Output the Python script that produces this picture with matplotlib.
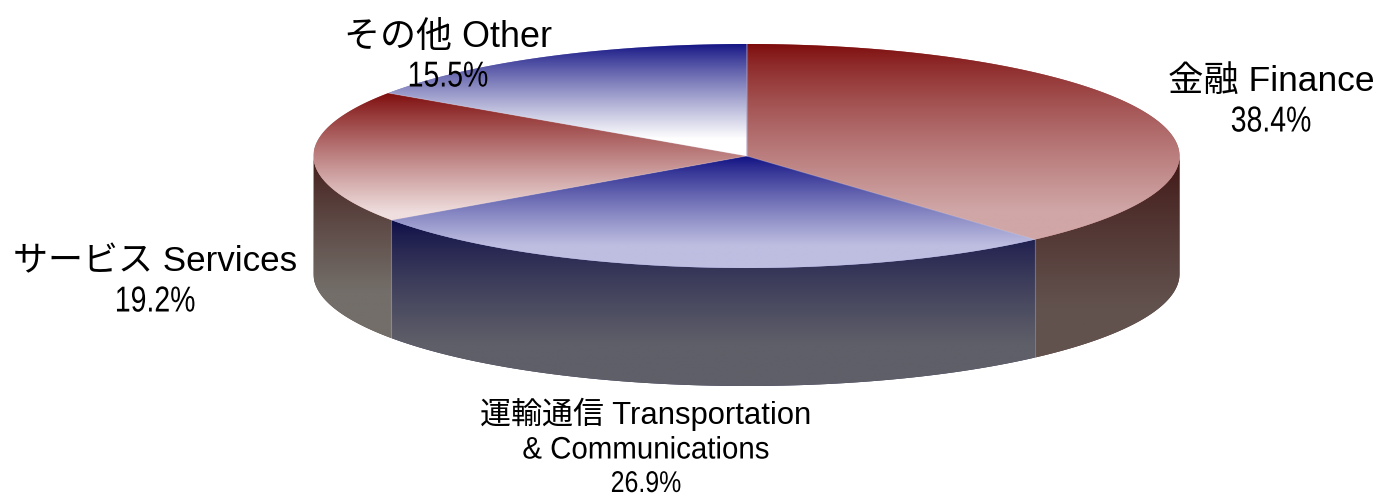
import numpy as np
import matplotlib
matplotlib.use("Agg")
import matplotlib.pyplot as plt
from matplotlib.path import Path
from matplotlib.patches import PathPatch
from matplotlib.patheffects import AbstractPathEffect
from matplotlib.transforms import Affine2D

# ---- data ----
categories = ["金融 Finance", "運輸通信 Transportation\n& Communications", "サービス Services", "その他 Other"]
shares = [38.4, 26.9, 19.2, 15.5]

# ---- styles ----
top_from = ["#7d0a0a", "#0f0f82", "#7d0a0a", "#0f0f82"]
top_to = ["#d0a6a6", "#bebee1", "#f0dfdf", "#ffffff"]
top_gamma = [0.75, 0.85, 0.9, 0.85]
top_stop = [0.85, 0.8, 0.95, 0.85]
side_from = ["#3e1210", "#0c0c48", "#3e1412", None]
side_to = ["#62524e", "#5f5f69", "#736e69", None]
label_x = [1271, 646, 155, 448]
label_y = [[78, 118], [411, 447, 481], [258, 298], [33, 73]]
label_px = [35.4, 31, 35, 36]
line_squeeze = [[1.0, 0.79], [1.0, 0.95, 0.83], [1.0, 0.79], [1.0, 0.79]]
pct_px = [36, 30, 36, 36]

CX, CY, RX, RY, DEPTH = 746.5, 156.0, 433.0, 112.0, 118.0
W, H = 1377, 494

fig = plt.figure(figsize=(W / 100, H / 100), dpi=100)
ax = fig.add_axes([0, 0, 1, 1])
ax.axis("off")


class Squeeze(AbstractPathEffect):
    """Narrow a text horizontally about a pixel x position (the text stays text)."""

    def __init__(self, sx, cx):
        super().__init__()
        self.sx, self.cx = sx, cx

    def draw_path(self, renderer, gc, tpath, affine, rgbFace=None):
        t = affine + Affine2D().translate(-self.cx, 0).scale(self.sx, 1).translate(self.cx, 0)
        renderer.draw_path(gc, tpath, t, rgbFace)


def rim(a0, a1, n=240):
    """points on the ellipse, angle in degrees clockwise from 12 o'clock"""
    t = np.radians(np.linspace(a0, a1, n))
    return CX + RX * np.sin(t), CY - RY * np.cos(t)


def gradient(xs, ys, c0, c1, z, g, stop):
    verts = np.column_stack([xs, ys])
    verts = np.vstack([verts, verts[0]])
    codes = [Path.MOVETO] + [Path.LINETO] * (len(verts) - 2) + [Path.CLOSEPOLY]
    path = Path(verts, codes)
    y0, y1 = ys.min(), ys.max()
    a = np.array(matplotlib.colors.to_rgb(c0))
    b = np.array(matplotlib.colors.to_rgb(c1))
    f = (np.minimum(np.linspace(0, 1, 256) / stop, 1) ** g)[:, None, None]
    img = a[None, None, :] * (1 - f) + b[None, None, :] * f
    patch = PathPatch(path, facecolor=tuple((a + b) / 2), edgecolor="none", zorder=z - 0.5)
    ax.add_patch(patch)
    im = ax.imshow(img, extent=[xs.min(), xs.max(), y1, y0], aspect="auto",
                   interpolation="bilinear", zorder=z)
    im.set_clip_path(patch)


edges = np.concatenate([[0], np.cumsum(shares)]) / sum(shares) * 360

# sides (front half only: 90 to 270 degrees)
for i in range(len(shares)):
    a0, a1 = max(edges[i], 90), min(edges[i + 1], 270)
    if a1 <= a0 or side_from[i] is None:
        continue
    x, y = rim(a0, a1)
    xs = np.concatenate([x, x[::-1]])
    ys = np.concatenate([y, y[::-1] + DEPTH])
    gradient(xs, ys, side_from[i], side_to[i], 2, 0.75, 0.75)
    for a in (a0, a1):
        if 90 < a < 270:
            xe, ye = rim(a, a, 1)
            ax.plot([xe[0], xe[0]], [ye[0], ye[0] + DEPTH], color="#ffffff",
                    alpha=0.12, lw=0.8, zorder=3)

# tops
for i in range(len(shares)):
    x, y = rim(edges[i], edges[i + 1])
    xs = np.concatenate([[CX], x])
    ys = np.concatenate([[CY], y])
    gradient(xs, ys, top_from[i], top_to[i], 4, top_gamma[i], top_stop[i])
    ax.plot([CX, x[0]], [CY, y[0]], color="#ffffff", alpha=0.2, lw=0.8, zorder=5)

# labels
for i, name in enumerate(categories):
    lines = name.split("\n") + [f"{shares[i]:.1f}%"]
    for j, (txt, yy) in enumerate(zip(lines, label_y[i])):
        last = j == len(lines) - 1
        size = pct_px[i] if last else label_px[i]
        t = ax.text(label_x[i], yy, txt, ha="center", va="center_baseline", color="black",
                    fontsize=size * 0.72, family=["Liberation Sans", "Noto Sans CJK JP"], zorder=10)
        if line_squeeze[i][j] != 1.0:
            t.set_path_effects([Squeeze(line_squeeze[i][j], label_x[i])])

ax.set_xlim(0, W)
ax.set_ylim(H, 0)
fig.savefig("out.png", dpi=100, facecolor="white")
